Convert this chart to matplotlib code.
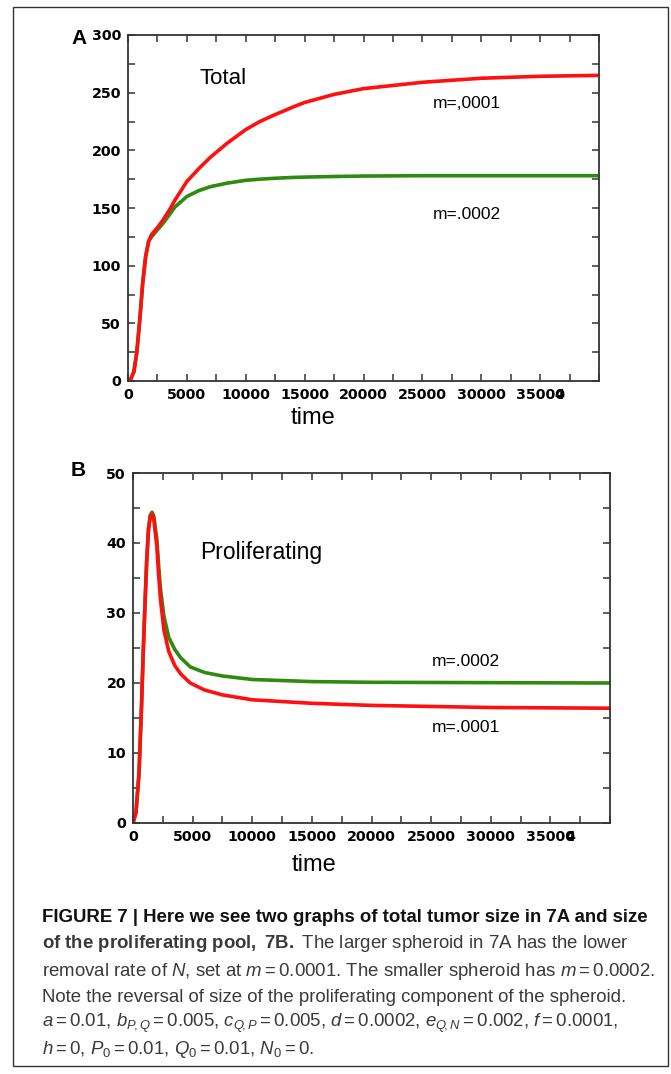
import matplotlib
matplotlib.use("Agg")
import matplotlib.pyplot as plt
from matplotlib import font_manager
from matplotlib.patches import Rectangle
from matplotlib.ticker import MultipleLocator, FixedLocator

# ---------------- data ----------------
time_A = [0, 250, 500, 750, 1000, 1250, 1500, 1750, 2000, 2500, 3000, 3500, 4000, 5000,
          6000, 7000, 8400, 10000, 11200, 12500, 14000, 15000, 17500, 20000, 25000,
          30000, 35000, 40000]
total_m0001 = [0, 2, 8, 25, 53, 85, 108, 121, 127, 133, 140, 148, 157, 173,
               184, 194, 206, 218, 225, 231, 237.5, 241.5, 248.5, 253.5, 259,
               262.5, 264.2, 265]
total_m0002 = [0, 2, 8, 25, 53, 85, 108, 121, 125, 131, 137, 144, 151, 160,
               165, 168.5, 171.5, 174, 175, 175.8, 176.5, 176.8, 177.3, 177.7, 178,
               178, 178, 178]

time_B = [0, 250, 500, 700, 850, 1000, 1150, 1300, 1450, 1600, 1750, 1900, 2000, 2150,
          2300, 2600, 3000, 3500, 4000, 4800, 6000, 7500, 10000, 15000, 20000, 30000, 40000]
prolif_m0001 = [0, 1.5, 7, 16, 24, 31, 37.5, 42, 43.8, 44.1, 43.3, 41, 39.5, 35.5,
                32, 27.5, 24.5, 22.5, 21.3, 20, 19, 18.3, 17.6, 17.1, 16.8, 16.5, 16.4]
prolif_m0002 = [0, 1.5, 7, 16, 24, 31, 37.5, 42, 44, 44.4, 43.8, 41.8, 40.5, 36.8,
                33.5, 29.5, 26.5, 24.8, 23.6, 22.3, 21.5, 21.0, 20.5, 20.2, 20.1, 20.05, 20.0]

x_ticks = [0, 5000, 10000, 15000, 20000, 25000, 30000, 35000]
x_ticklabels = ["0", "5000", "10000", "15000", "20000", "25000", "30000", "35000"]
yA_ticks = [0, 50, 100, 150, 200, 250, 300]
yB_ticks = [0, 10, 20, 30, 40, 50]

caption_lines = [
    "FIGURE 7 | Here we see two graphs of total tumor size in 7A and size",
    r"$\mathbf{of\ the\ proliferating\ pool,\ 7B.}$ The larger spheroid in 7A has the lower",
    r"removal rate of $N$, set at $m=0.0001$. The smaller spheroid has $m=0.0002$.",
    "Note the reversal of size of the proliferating component of the spheroid.",
    r"$a=0.01$, $b_{P\!,Q}=0.005$, $c_{Q\!,P}=0.005$, $d=0.0002$, $e_{Q\!,N}=0.002$, $f=0.0001$,",
    r"$h=0$, $P_0=0.01$, $Q_0=0.01$, $N_0=0$.",
]

# ---------------- fonts ----------------
names = {f.name for f in font_manager.fontManager.ttflist}
cap_font = "Liberation Sans Narrow" if "Liberation Sans Narrow" in names else "Liberation Sans"
plt.rcParams["mathtext.fontset"] = "custom"
plt.rcParams["mathtext.rm"] = cap_font
plt.rcParams["mathtext.it"] = cap_font + ":italic"
plt.rcParams["mathtext.bf"] = cap_font + ":bold"

W, H = 671, 1074
fig = plt.figure(figsize=(W / 100, H / 100), dpi=100)

RED = "#ff1010"
GREEN = "#2f8a12"
TICK_SIZE = 10.3
tick_font = dict(family="DejaVu Sans", size=TICK_SIZE, weight="bold")
arial = "Liberation Sans"


def ax_rect(l, t, r, b):
    return [l / W, 1 - b / H, (r - l) / W, (b - t) / H]


def style_axis(ax, ymax, yminor, yticks, four_x):
    ax.set_xlim(0, 40000)
    ax.set_ylim(0, ymax)
    ax.xaxis.set_major_locator(FixedLocator(x_ticks))
    ax.set_xticklabels(x_ticklabels, fontdict=tick_font)
    ax.xaxis.set_minor_locator(MultipleLocator(2500))
    ax.yaxis.set_major_locator(FixedLocator(yticks))
    ax.set_yticklabels([str(v) for v in yticks], fontdict=tick_font)
    ax.yaxis.set_minor_locator(MultipleLocator(yminor))
    ax.tick_params(which="both", direction="in", top=True, right=True,
                   length=5, width=1.1, color="#333333")
    ax.tick_params(axis="x", pad=5)
    ax.tick_params(axis="y", pad=5)
    for s in ax.spines.values():
        s.set_linewidth(1.3)
        s.set_color("#333333")
    # stray overlapping "4" on top of the 35000 label (as in the source image)
    ax.annotate("4", xy=(four_x, 0), xycoords=("data", "axes fraction"),
                xytext=(0, -5), textcoords="offset points",
                ha="center", va="top", fontfamily="DejaVu Sans",
                fontsize=TICK_SIZE, fontweight="bold")


# ---------------- panel A ----------------
axA = fig.add_axes(ax_rect(128, 35, 599, 381))
axA.plot(time_A, total_m0002, color=GREEN, lw=2.6, solid_capstyle="butt")
axA.plot(time_A, total_m0001, color=RED, lw=2.6, solid_capstyle="butt")
style_axis(axA, 300, 25, yA_ticks, 36650)
axA.text(6100, 262.5, "Total", family=arial, fontsize=16, ha="left", va="center")
axA.text(25900, 241, "m=,0001", family=arial, fontsize=12.5, ha="left", va="center")
axA.text(25900, 144, "m=.0002", family=arial, fontsize=12.5, ha="left", va="center")
axA.text(0.393, -0.107, "time", transform=axA.transAxes, family=arial, fontsize=17,
         ha="center", va="center")

# ---------------- panel B ----------------
axB = fig.add_axes(ax_rect(133, 473, 610, 823))
axB.plot(time_B, prolif_m0002, color=GREEN, lw=2.6, solid_capstyle="butt")
axB.plot(time_B, prolif_m0001, color=RED, lw=2.6, solid_capstyle="butt")
style_axis(axB, 50, 5, yB_ticks, 36650)
axB.text(5600, 38.6, "Proliferating", family=arial, fontsize=16.5, ha="left", va="center")
axB.text(25070, 23.1, "m=.0002", family=arial, fontsize=12.5, ha="left", va="center")
axB.text(25070, 13.6, "m=.0001", family=arial, fontsize=12.5, ha="left", va="center")
axB.text(0.379, -0.12, "time", transform=axB.transAxes, family=arial, fontsize=17,
         ha="center", va="center")

# panel letters
fig.text(71 / W, 1 - 39 / H, "A", family=arial, fontweight="bold", fontsize=15,
         ha="left", va="center")
fig.text(71 / W, 1 - 470 / H, "B", family=arial, fontweight="bold", fontsize=15,
         ha="left", va="center")

# outer border
fig.patches.append(Rectangle((13 / W, 1 - 1066 / H), (668 - 13) / W, (1066 - 7) / H,
                             transform=fig.transFigure, fill=False,
                             edgecolor="#333333", lw=1.0))

# ---------------- caption ----------------
cap_y = [918, 944, 971, 997, 1023, 1050]
for i, (line, yy) in enumerate(zip(caption_lines, cap_y)):
    kw = dict(family=cap_font, fontsize=13.4, ha="left", va="center")
    if i == 0:
        kw.update(fontweight="bold", color="#111111")
    else:
        kw.update(color="#3a3a3a")
    fig.text(42 / W, 1 - yy / H, line, **kw)

fig.savefig("out.png", dpi=100)
